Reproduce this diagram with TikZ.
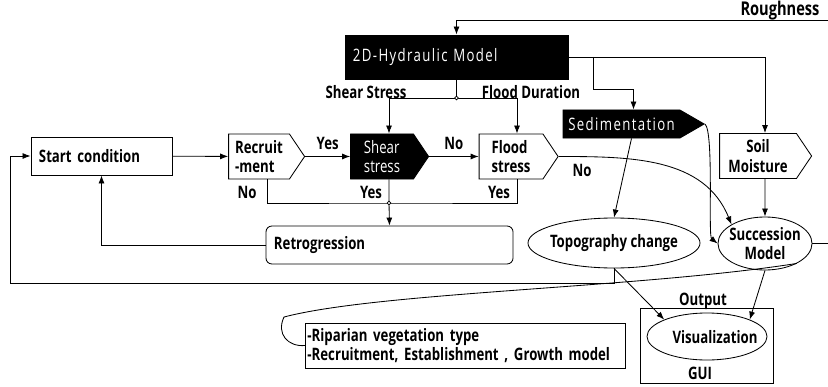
\documentclass[tikz,border=0pt]{standalone}
\usepackage{fontspec}
\setmainfont{Open Sans}[FakeStretch=0.77]
\usetikzlibrary{arrows.meta,positioning,calc,shapes.geometric,shapes.symbols}
\newcommand\diagfont{\fontsize{12.2}{14}\selectfont}
\newcommand\widefont{\addfontfeature{LetterSpace=8}}
\tikzset{
  box/.style={draw,fill=white,line width=.6pt,align=left,inner xsep=.2cm,inner ysep=.05cm},
  sig/.style={draw,fill=white,line width=.6pt,signal,signal to=east,signal pointer angle=112,minimum width=1.9cm,minimum height=1.125cm,align=left,inner sep=.08cm},
  dark/.style={fill=black,text=white,font=\mdseries\diagfont},
  oval/.style={ellipse,draw,fill=white,line width=.6pt,inner sep=0pt},
  flow/.style={-{Latex[length=2mm,width=1.5mm]},line width=.6pt},
  plainline/.style={line width=.6pt},
  joint/.style={draw,fill=white,line width=.5pt}
}
\begin{document}
\begin{tikzpicture}[x=0.025cm,y=-0.025cm,font=\bfseries\diagfont]
  \useasboundingbox (0,0) rectangle (828,387);

  % model blocks
  \node[box,dark,draw=black,minimum width=5.575cm,minimum height=1.1cm,text width=5.175cm] (hydro) at (456.5,57) {\widefont 2D-Hydraulic Model};
  \node[box,minimum height=.95cm,text width=3.125cm] (start) at (101.5,156) {Start condition};
  \node[sig] (recr) at (259,156.5) {Recruit\\-ment};
  \node[sig,dark,draw=black,minimum width=1.95cm] (shear) at (382,156.5) {Shear\\stress};
  \node[sig,minimum width=1.975cm] (flood) at (511,156.5) {Flood\\stress};
  \node[sig,dark,draw=black,signal pointer angle=60,minimum width=3.525cm,minimum height=.7cm] (sedi) at (621.5,124) {\widefont Sedimentation};
  \node[sig,align=center,minimum width=2.3cm] (soil) at (758,156) {Soil\\Moisture};
  \node[box,rounded corners=.15cm,minimum height=.95cm,text width=5.775cm] (retro) at (389.5,245) {Retrogression};
  \node[oval,minimum width=4.3cm,minimum height=1.25cm] (topo) at (614,243) {};
  \node (topotxt) at (614,243) {Topography change};
  \node[oval,minimum width=2.35cm,minimum height=1.325cm] (succ) at (765,243.5) {};
  \node[align=center] (succtxt) at (765,243.5) {Succession\\Model};
  \node[draw,line width=.6pt,minimum width=3.325cm,minimum height=1.875cm] (gui) at (706.5,345.5) {};
  \node[oval,minimum width=3cm,minimum height=1.175cm] (visu) at (707,336.5) {};
  \node (visutxt) at (715,337) {Visualization};
  \node[box,inner xsep=.05cm,minimum height=1.125cm,text width=7.9cm] (ripa) at (465.5,345.5) {-Riparian vegetation type\\-Recruitment, Establishment , Growth model};

  % labels
  \node[font=\bfseries\fontsize{13.5}{15}\selectfont] (rough) at (780,11) {Roughness};
  \node (sslbl) at (366,92) {Shear Stress};
  \node (fdlbl) at (531,92) {Flood Duration};
  \node (outlbl) at (703,301) {Output};
  \node (guilbl) at (700,373) {GUI};
  \node at (582,170) {No};
  \node at (247,192) {No};
  \node at (371,192) {Yes};
  \node at (499,192) {Yes};

  \coordinate (rin) at (828,20);
  \coordinate (rout) at (828,243.5);
  \coordinate (j1) at (456.5,98);
  \coordinate (j2) at (593,57);
  \coordinate (j3) at (389,203);
  \coordinate (lc) at (10,283);

  % connectors
  \draw[flow] (rin) -| (hydro.north);
  \draw[plainline] (hydro.south) -- (j1);
  \draw[flow] (j1) -| ([xshift=.175cm]shear.north);
  \draw[flow] (j1) -| ([xshift=.15cm]flood.north);
  \draw[flow] (hydro.east) -| ([xshift=.175cm]soil.north);
  \draw[flow] (j2) -- ++(0,32) -| ([xshift=.3cm]sedi.north);
  \draw[flow] (start) -- (recr);
  \draw[flow] (recr) -- (shear) node[midway,above=1pt] {Yes};
  \draw[flow] (shear) -- (flood) node[midway,above=1pt] {No};
  \draw[flow] (flood.east) to[out=0,in=112] (succ.north west);
  \draw[flow] (sedi.east) .. controls (714,132) and (708,236) .. (succ.west);
  \draw[flow] ([xshift=.25cm]sedi.south) -- (topo.north);
  \draw[flow] ([xshift=.175cm]soil.south) -- (succ.north);
  \draw[plainline] (succ.east) -- (rout);
  \draw[flow] (topo.south) |- (lc) |- (start.west);
  \draw[flow] (topo.south) -- (visu.north west);
  \draw[flow] (succ.south) -- (visu.north east);
  \draw[plainline] ([xshift=.2cm]recr.south) |- (j3) -| ([xshift=.15cm]flood.south);
  \draw[plainline] ([xshift=.175cm]shear.south) -- (j3);
  \draw[flow] (j3) -- (retro.north);
  \draw[flow] (retro.west) -| (start.south);
  \draw[plainline] (succ.-32) .. controls (640,288) and (380,292) .. (284,317) .. controls (276,334) and (288,347) .. (ripa.west);
  \draw[joint] (j1) circle (1.3pt);
  \draw[joint] (j3) circle (1.3pt);
\end{tikzpicture}
\end{document}
